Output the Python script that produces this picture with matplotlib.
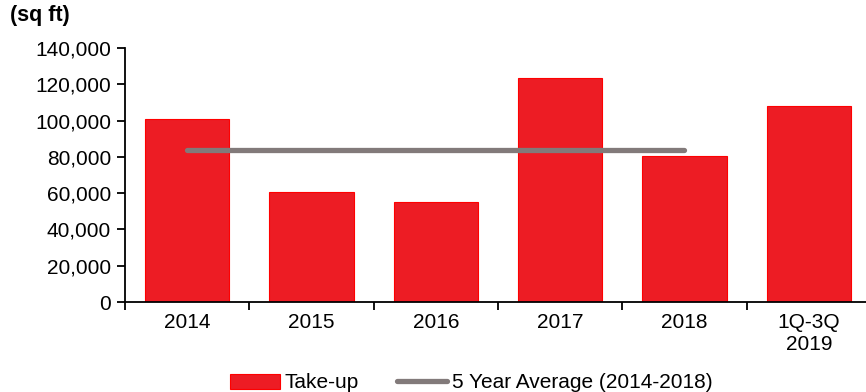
import matplotlib.pyplot as plt
from matplotlib.patches import Patch
from matplotlib.lines import Line2D
from matplotlib.ticker import FuncFormatter

plt.rcParams['font.family'] = ['Liberation Sans', 'DejaVu Sans']

# take-up per year, sq ft
periods = ["2014", "2015", "2016", "2017", "2018", "1Q-3Q\n2019"]
take_up = [100600, 60600, 55000, 123500, 80500, 108200]

# five year average over 2014-2018
avg_periods = [0, 1, 2, 3, 4]
avg_values = [84000, 84000, 84000, 84000, 84000]

bar_red = "#ED1C24"
line_grey = "#827A7A"

fig = plt.figure(figsize=(8.66, 3.92), dpi=100)
# the category axis runs a few pixels past the right edge
ax = fig.add_axes([125 / 866, 1 - 302 / 392, 746 / 866, 254 / 392])

x = list(range(len(periods)))
ax.bar(x, take_up, width=0.68, color=bar_red, edgecolor="#FF0000", linewidth=0.8, zorder=2)
ax.plot(avg_periods, avg_values, color=line_grey, linewidth=3.8,
        solid_capstyle="round", zorder=3)

ax.set_xlim(-0.5, len(periods) - 0.5)
ax.set_ylim(0, 140000)
ax.set_yticks(range(0, 140001, 20000))
ax.yaxis.set_major_formatter(FuncFormatter(lambda v, p: f"{int(v):,}"))

# category labels centred, tick marks on the boundaries
ax.set_xticks(x)
ax.set_xticklabels(periods)
ax.set_xticks([i - 0.5 for i in range(len(periods) + 1)], minor=True)
ax.tick_params(axis="x", which="major", length=0, pad=8, labelsize=15)
ax.tick_params(axis="x", which="minor", length=6, width=1.3, direction="out")
ax.tick_params(axis="y", length=6, width=1.3, direction="out", labelsize=15, pad=4)

for side in ["top", "right"]:
    ax.spines[side].set_visible(False)
for side in ["left", "bottom"]:
    ax.spines[side].set_linewidth(1.3)

fig.text(10 / 866, 1 - 15 / 392, "(sq ft)", fontsize=15.5, fontweight="bold",
         ha="left", va="center")

handles = [
    Patch(facecolor=bar_red, edgecolor="#FF0000", linewidth=0.8),
    Line2D([0], [0], color=line_grey, linewidth=3.8, solid_capstyle="round"),
]
fig.legend(handles, ["Take-up", "5 Year Average (2014-2018)"], ncol=2,
           loc="center", bbox_to_anchor=(471 / 866, 1 - 383 / 392),
           frameon=False, fontsize=15, handlelength=2.4, handleheight=0.75,
           handletextpad=0.25, columnspacing=1.8, borderpad=0)

fig.savefig("out.png", dpi=100)
